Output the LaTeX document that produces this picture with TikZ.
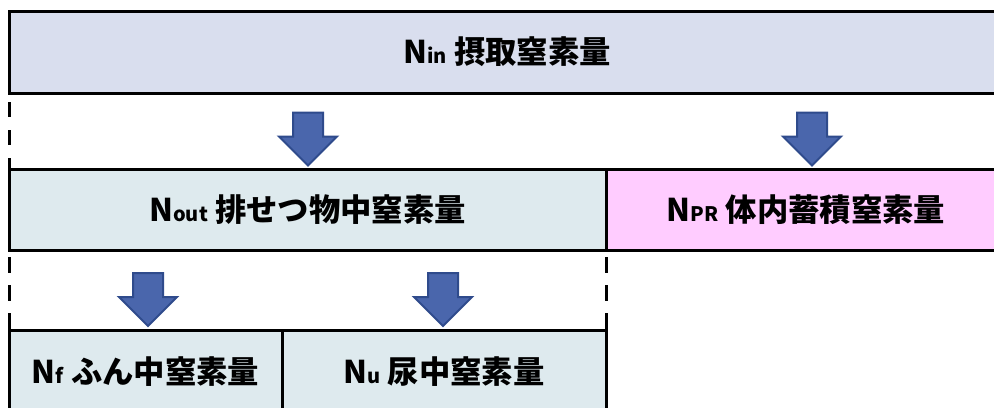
\documentclass[tikz,border=0pt]{standalone}
\usepackage{fontspec}
\setmainfont{Noto Sans CJK JP}
\usetikzlibrary{shapes.arrows}
\definecolor{topc}{HTML}{D9DEEE}
\definecolor{outc}{HTML}{DEEAEE}
\definecolor{prc}{HTML}{FFCCFF}
\definecolor{arrc}{HTML}{4A66AC}
\definecolor{arrd}{HTML}{2F4B8C}
\newcommand\nsub[1]{{\fontsize{15pt}{16pt}\selectfont #1}}
\begin{document}
\begin{tikzpicture}[x=0.75pt,y=-0.75pt,
  box/.style={draw=black, line width=2.25pt, rectangle, anchor=north west,
    outer sep=0pt, inner sep=0pt,
    font=\bfseries\fontsize{23.5pt}{27pt}\selectfont},
  downarrow/.style={single arrow, shape border rotate=270, draw=arrd, fill=arrc,
    line width=1.5pt, minimum height=39.75pt, inner sep=10.5pt,
    single arrow head extend=10.5pt, single arrow head indent=0pt, outer sep=0pt},
  dashtop/.style={line width=2.25pt, dash pattern=on 11.25pt off 9.75pt, dash phase=14.25pt},
  dashlow/.style={line width=2.25pt, dash pattern=on 12pt off 9pt, dash phase=15.75pt}]
\useasboundingbox (0,0) rectangle (994,407);
\clip (0,0) rectangle (994,407);
% boxes
\node[box, fill=topc, minimum width=747pt, minimum height=61.5pt] (in) at (9,11)
  {N\nsub{in} 摂取窒素量};
\node[box, fill=outc, minimum width=447.75pt, minimum height=60.75pt] (out) at (9,169)
  {N\nsub{out} 排せつ物中窒素量};
\node[box, fill=prc, minimum width=300pt, minimum height=60.75pt] (pr) at (606,169)
  {N\nsub{PR} 体内蓄積窒素量};
\node[box, fill=outc, minimum width=204.75pt, minimum height=63pt] (f) at (9,330)
  {N\nsub{f} ふん中窒素量};
\node[box, fill=outc, minimum width=243pt, minimum height=63pt] (u) at (282,330)
  {N\nsub{u} 尿中窒素量};
% arrows
\node[downarrow] (a1) at (308,131.5) {};
\node[downarrow] (a2) at (812,131.5) {};
\node[downarrow] (a3) at (148,292) {};
\node[downarrow] (a4) at (443,292) {};
% dashed lines
\draw[dashtop] (in.south west) -- (out.north west);
\draw[dashlow] (out.south west) -- (f.north west);
\draw[dashlow] (out.south east) -- (u.north east);
\end{tikzpicture}
\end{document}
